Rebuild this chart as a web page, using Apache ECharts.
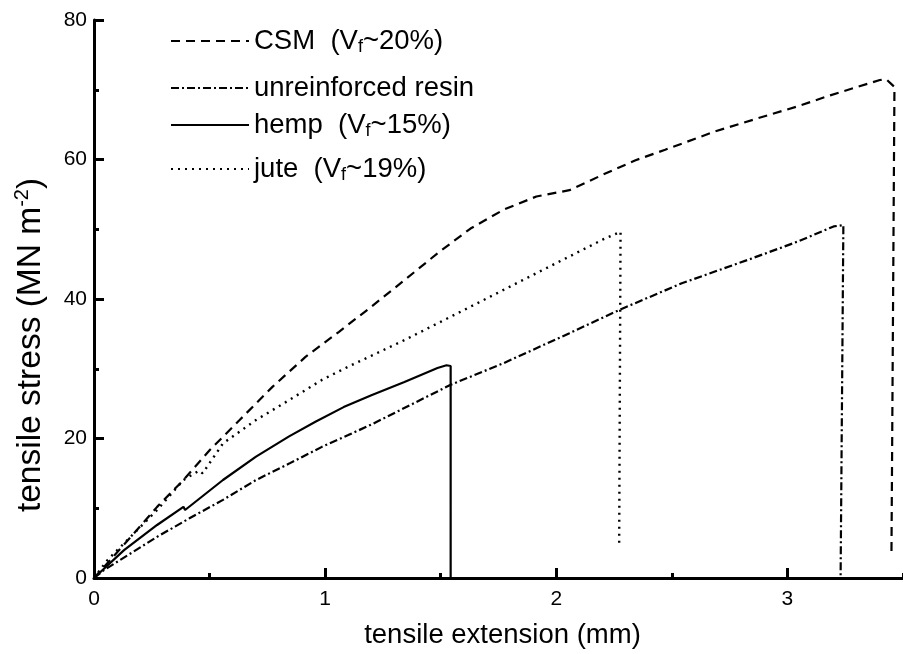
<!DOCTYPE html>
<html>
<head>
<meta charset="utf-8">
<title>Tensile stress vs extension</title>
<script src="https://cdn.jsdelivr.net/npm/echarts@6/dist/echarts.min.js"></script>
<style>
  html, body { margin: 0; padding: 0; background: #fff; }
  #chart { width: 903px; height: 654px; }
</style>
</head>
<body>
<div id="chart"></div>
<script>
// Stress-extension curves for polyester composites (extension in mm, stress in MN m^-2)
const csmX = [0, 0.044, 0.173, 0.273, 0.387, 0.501, 0.63, 0.772, 0.915, 1.06, 1.20, 1.343, 1.486, 1.629, 1.772, 1.914, 2.057, 2.20, 2.343, 2.471, 2.685, 2.871, 3.042, 3.185, 3.40, 3.428, 3.463, 3.45];
const csmY = [0, 1.6, 6.4, 10.2, 14.05, 18.35, 22.65, 27.4, 31.7, 35.3, 38.9, 42.7, 46.55, 50.1, 52.8, 54.7, 55.6, 57.8, 59.9, 61.4, 64.0, 65.9, 67.6, 69.2, 71.4, 71.5, 70.4, 3.1];

const resinX = [0, 0.044, 0.273, 0.415, 0.558, 0.701, 0.844, 0.986, 1.10, 1.20, 1.543, 1.772, 2.057, 2.27, 2.543, 2.828, 3.042, 3.20, 3.242, 3.23];
const resinY = [0, 1.15, 5.9, 8.6, 11.2, 14.05, 16.4, 18.8, 20.5, 22.0, 27.7, 30.8, 35.1, 38.4, 42.25, 45.6, 48.2, 50.4, 50.6, 0];

const hempX = [0, 0.13, 0.273, 0.387, 0.394, 0.558, 0.701, 0.844, 0.958, 1.08, 1.20, 1.343, 1.486, 1.525, 1.543, 1.543];
const hempY = [0, 4.0, 7.6, 10.2, 9.75, 14.05, 17.4, 20.3, 22.4, 24.5, 26.2, 28.1, 30.1, 30.5, 30.4, 0];

const juteX = [0, 0.059, 0.158, 0.273, 0.387, 0.455, 0.47, 0.558, 0.701, 0.844, 0.986, 1.10, 1.343, 1.629, 1.914, 2.20, 2.278, 2.272];
const juteY = [0, 2.6, 5.9, 9.75, 14.05, 15.4, 15.0, 19.3, 22.65, 25.5, 28.4, 30.3, 34.1, 38.9, 43.7, 48.5, 49.65, 4.7];

const seriesNames = ['CSM', 'unreinforced resin', 'hemp', 'jute'];
const fibreFractions = ['~20%', null, '~15%', '~19%'];

const xMajorTicks = [0, 1, 2, 3];

const xTitle = 'tensile extension (mm)';
const yTitleMain = 'tensile stress (MN m';
const yTitleSup = '-2';

const FONT = '"Liberation Sans", Arial, Helvetica, sans-serif';

const pairs = (xs, ys) => xs.map((x, i) => [x, ys[i]]);

const lineStyles = [
  { type: [9, 6], width: 2.2 },          // dashed
  { type: [8, 3, 2, 3], width: 2.2 },    // dash-dot
  { type: 'solid', width: 2.2 },         // solid
  { type: [2, 5], width: 2.4 }           // dotted
];
const seriesData = [pairs(csmX, csmY), pairs(resinX, resinY), pairs(hempX, hempY), pairs(juteX, juteY)];

const legendRich = {
  t: { fontFamily: FONT, fontSize: 27.5, color: '#000', lineHeight: 30 },
  s: { fontFamily: FONT, fontSize: 18, color: '#000', lineHeight: 8, verticalAlign: 'bottom' }
};
function legendLabel(name) {
  const i = seriesNames.indexOf(name);
  const vf = fibreFractions[i];
  if (!vf) return '{t|' + name + '}';
  return '{t|' + name + '  (V}{s|f}{t|' + vf + ')}';
}

// vertical centre of each legend row
const legendCentres = [42, 89, 126, 170];

const chart = echarts.init(document.getElementById('chart'), null, { renderer: 'canvas' });

chart.setOption({
  animation: false,
  backgroundColor: '#fff',
  textStyle: { fontFamily: FONT, color: '#000' },
  grid: { left: 94, top: 20, right: -5.5, bottom: 76, containLabel: false },
  legend: seriesNames.map((name, i) => ({
    data: [name],
    left: 170,
    top: legendCentres[i] - 15,
    padding: 0,
    itemWidth: 78,
    itemHeight: 14,
    selectedMode: false,
    formatter: legendLabel,
    textStyle: { rich: legendRich },
    lineStyle: { width: 2 },
    itemStyle: { color: 'rgba(0,0,0,0)', borderColor: 'rgba(0,0,0,0)', borderWidth: 0 }
  })),
  xAxis: [
    {
      type: 'value',
      min: 0,
      max: 3.5,
      interval: 1,
      name: xTitle,
      nameLocation: 'middle',
      nameGap: 43,
      nameTextStyle: { fontFamily: FONT, fontSize: 27.5, color: '#000', padding: [0, 0, 0, 8] },
      axisLine: { show: true, onZero: false, lineStyle: { color: '#000', width: 3 } },
      axisTick: { show: true, inside: true, length: 10, customValues: xMajorTicks, lineStyle: { color: '#000', width: 3 } },
      axisLabel: { show: true, customValues: xMajorTicks, margin: 11, fontFamily: FONT, fontSize: 21, color: '#000' },
      splitLine: { show: false }
    },
    {
      type: 'value',
      min: 0,
      max: 3.5,
      interval: 0.5,
      position: 'bottom',
      axisLine: { show: false },
      axisTick: { show: true, inside: true, length: 5, lineStyle: { color: '#000', width: 3 } },
      axisLabel: { show: false },
      splitLine: { show: false }
    }
  ],
  yAxis: {
    type: 'value',
    min: 0,
    max: 80,
    interval: 20,
    axisLine: { show: true, onZero: false, lineStyle: { color: '#000', width: 3 } },
    axisTick: { show: true, inside: true, length: 10, lineStyle: { color: '#000', width: 3 } },
    minorTick: { show: true, splitNumber: 2, length: 5, lineStyle: { color: '#000', width: 3 } },
    axisLabel: { show: true, margin: 7, fontFamily: FONT, fontSize: 21, color: '#000' },
    splitLine: { show: false },
    minorSplitLine: { show: false }
  },
  graphic: [{
    type: 'text',
    x: 31,
    y: 345,
    rotation: Math.PI / 2,
    style: {
      text: '{t|' + yTitleMain + '}{p|' + yTitleSup + '}{t|)}',
      align: 'center',
      verticalAlign: 'middle',
      rich: {
        t: { fontFamily: FONT, fontSize: 33.5, fill: '#000', lineHeight: 38 },
        p: { fontFamily: FONT, fontSize: 20, fill: '#000', lineHeight: 14, verticalAlign: 'top' }
      }
    }
  }],
  series: seriesNames.map((name, i) => ({
    name: name,
    type: 'line',
    xAxisIndex: 0,
    yAxisIndex: 0,
    data: seriesData[i],
    symbol: 'none',
    smooth: false,
    clip: true,
    lineStyle: Object.assign({ color: '#000' }, lineStyles[i]),
    itemStyle: { color: '#000' },
    emphasis: { disabled: true }
  }))
});
</script>
</body>
</html>
